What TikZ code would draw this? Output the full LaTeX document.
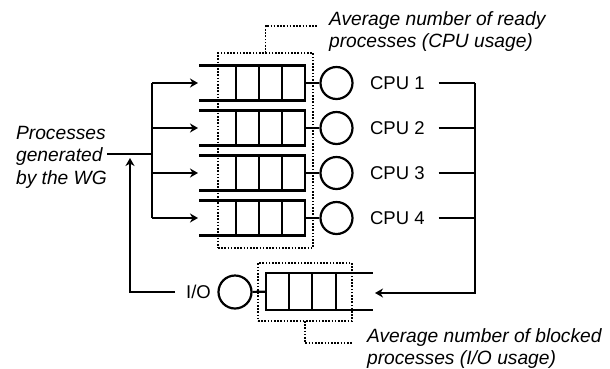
\documentclass[tikz,border=0pt]{standalone}
\usepackage{fontspec}
\setmainfont{Liberation Sans}
\usetikzlibrary{arrows.meta}
\begin{document}
\begin{tikzpicture}[x=1pt,y=-1pt, line width=2.2pt,
  qcell/.style={draw, rectangle, minimum width=69pt, minimum height=35pt, inner sep=0pt, outer sep=0pt},
  srv/.style={draw, circle, minimum size=32pt, inner sep=0pt},
  lbl/.style={font=\fontsize{18.5}{22}\selectfont, inner sep=0pt},
  note/.style={font=\fontsize{19.2}{22.5}\selectfont\itshape, inner sep=0pt, align=left, anchor=north west},
  dots/.style={line width=1.6pt, dash pattern=on 1.6pt off 1.6pt},
  dbox/.style={draw, dots, rectangle, inner sep=0pt, outer sep=0pt},
  arr/.style={-{Stealth[length=8pt,width=9pt,inset=2.5pt]}}]
\useasboundingbox (0,0) rectangle (610,368);

% CPU queues
\foreach \i/\c in {1/83,2/128,3/173,4/218}{
  \node[qcell] (q\i) at (270.5,\c) {};
  \draw (q\i.north west) -- ++(-37,0);
  \draw (q\i.south west) -- ++(-37,0);
  \draw ([xshift=23pt]q\i.north west) -- ([xshift=23pt]q\i.south west);
  \draw ([xshift=46pt]q\i.north west) -- ([xshift=46pt]q\i.south west);
  \node[srv] (c\i) at (336.5,\c) {};
  \draw (q\i) -- (c\i);
  \node[lbl, anchor=west] (p\i) at (369,\c) {CPU \i};
  \coordinate (r\i) at (475,\c);
  \draw ([xshift=13pt]p\i.east) -- (r\i);
  \coordinate (t\i) at (152,\c);
  \coordinate (a\i) at (198,\c);
  \draw[arr] (t\i) -- (a\i);
}
\draw (t1) -- (t4);
\draw (r1) -- (r4);

% generator
\node[note] (lt) at (15,125) {Processes\\generated\\by the WG};
\coordinate (in) at (107,154);
\coordinate (tin) at (152,154);
\draw (in) -- (tin);

% I/O
\node[qcell, minimum width=70pt, minimum height=37pt] (qio) at (301,291.5) {};
\draw (qio.north east) -- ++(37,0);
\draw (qio.south east) -- ++(37,0);
\draw ([xshift=23pt]qio.north west) -- ([xshift=23pt]qio.south west);
\draw ([xshift=46pt]qio.north west) -- ([xshift=46pt]qio.south west);
\node[srv, minimum size=33pt] (cio) at (235,292) {};
\draw (cio) -- (qio);
\node[lbl] (tio) at (198.5,292) {I/O};

% return path
\coordinate (rb) at (475,293);
\coordinate (iin) at (375,293);
\draw[arr] (r4) -- (rb) -- (iin);

% feedback
\coordinate (fb1) at (130,292);
\coordinate (fb2) at (130,158);
\draw[arr] ([xshift=-10pt]tio.west) -- (fb1) -- (fb2);

% annotations
\node[dbox, minimum width=95pt, minimum height=195pt] (dr) at (265.5,150.5) {};
\node[note] (nr) at (328,10) {Average number of ready\\processes (CPU usage)};
\coordinate (dr1) at (265.5,26);
\coordinate (dr2) at (318,26);
\draw[dots] (dr.north) -- (dr1) -- (dr2);

\node[dbox, minimum width=94pt, minimum height=58pt] (db) at (305,292) {};
\node[note] (nb) at (366,327) {Average number of blocked\\processes (I/O usage)};
\coordinate (db1) at (305,343);
\coordinate (db2) at (352,343);
\draw[dots] (db.south) -- (db1) -- (db2);
\end{tikzpicture}
\end{document}
